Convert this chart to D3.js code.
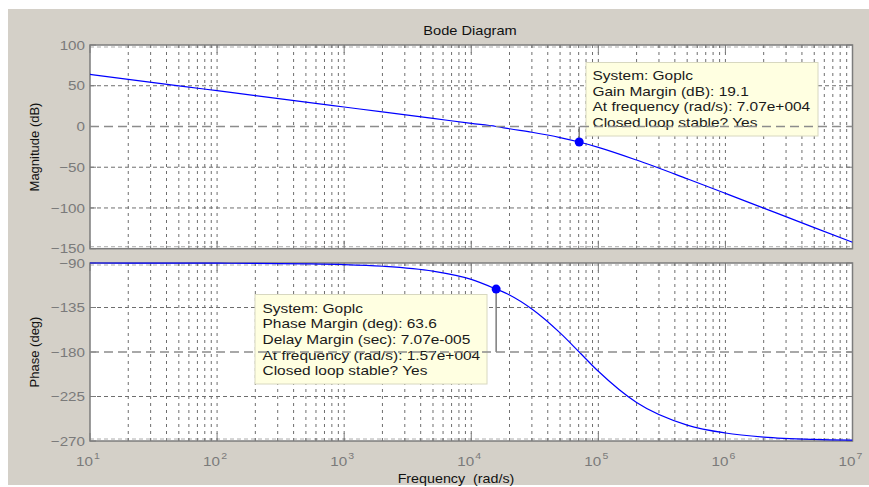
<!DOCTYPE html>
<html><head><meta charset="utf-8">
<script src="https://cdn.jsdelivr.net/npm/d3@7"></script>
<style>
body{margin:0;background:#fff;}
svg{display:block;font-family:"Liberation Sans",Arial,sans-serif;}
</style></head>
<body><svg id="c" width="869" height="487"></svg>
<script>
// ---- data ----
const freqs = [10,20,50,100,200,500,1e3,2e3,5e3,1e4,1.57e4,2e4,3e4,5e4,7.07e4,1e5,2e5,5e5,1e6,2e6,5e6,1e7];
const magDb = [63.9,57.9,49.9,43.9,37.9,29.9,23.9,17.9,9.9,3.8,0,-2.8,-7.1,-13.6,-19.1,-25.6,-41.2,-64.2,-82.1,-100.2,-124.1,-142.1];
const phaseDeg = [-90,-90.1,-90.1,-90.2,-90.3,-90.8,-91.6,-93.3,-98.3,-106.6,-116.4,-122.3,-136.5,-160.7,-180,-199.5,-231.1,-253.9,-261.9,-266,-268.4,-269.2];
const magTicks = [100,50,0,-50,-100,-150];
const phaseTicks = [-90,-135,-180,-225,-270];
const decades = [1,2,3,4,5,6,7];
const gmPoint = {f:7.07e4, v:-19.1};
const pmPoint = {f:1.57e4, v:-116.4};
const gmText = ["System: Goplc","Gain Margin (dB): 19.1","At frequency (rad/s): 7.07e+004","Closed loop stable? Yes"];
const pmText = ["System: Goplc","Phase Margin (deg): 63.6","Delay Margin (sec): 7.07e-005","At frequency (rad/s): 1.57e+004","Closed loop stable? Yes"];

const svg = d3.select("#c");
svg.append("rect").attr("x",8).attr("y",9).attr("width",861).attr("height",476).attr("fill","#d4d0c8");

const X0=90, X1=852.5;
const x = d3.scaleLog().domain([10,1e7]).range([X0,X1]);
const yM = d3.scaleLinear().domain([-150,100]).range([248.7,45]);
const yP = d3.scaleLinear().domain([-270,-90]).range([441,263]);
const SX = 1.17; // horizontal stretch of the reference's text

const minorF = [];
for (let k=1;k<7;k++) for (let m=1;m<10;m++) minorF.push(m*Math.pow(10,k));
minorF.push(1e7);

function panel(y, ticks, special){
  const [b,t] = y.range();
  const g = svg.append("g");
  g.append("rect").attr("x",X0).attr("y",t).attr("width",X1-X0).attr("height",b-t).attr("fill","#fff");
  g.selectAll(".vg").data(minorF.filter(f=>f>10&&f<1e7)).join("line")
    .attr("x1",d=>x(d)).attr("x2",d=>x(d)).attr("y1",t).attr("y2",b)
    .attr("stroke","#6e6e6e").attr("stroke-width",1).attr("stroke-dasharray","3,4");
  g.selectAll(".hg").data(ticks.filter(v=>v!==special && v!==y.domain()[0] && v!==y.domain()[1])).join("line")
    .attr("x1",X0).attr("x2",X1).attr("y1",d=>y(d)).attr("y2",d=>y(d))
    .attr("stroke","#6e6e6e").attr("stroke-width",1).attr("stroke-dasharray","4,3");
  g.selectAll(".eg").data(ticks.filter(v=>v===y.domain()[0]||v===y.domain()[1])).join("line")
    .attr("x1",X0).attr("x2",X1).attr("y1",d=>y(d)+(d===y.domain()[0]?-2:2)).attr("y2",d=>y(d)+(d===y.domain()[0]?-2:2))
    .attr("stroke","#8a8a8a").attr("stroke-width",1).attr("stroke-dasharray","4,3").attr("opacity",0.7);
  const ax = d3.axisLeft(y).tickValues(ticks).tickSize(0).tickPadding(0);
  const ag = g.append("g").attr("transform",`translate(${X0-5},0)`).call(ax);
  ag.select(".domain").remove();
  ag.selectAll(".tick text").attr("x",0).attr("transform",`scale(${SX},1)`)
    .attr("fill","#7a7a7a").style("font-size","13px").style("font-family","Liberation Sans, Arial, sans-serif");
  g.selectAll(".yt").data(ticks).join("line").attr("x1",X0).attr("x2",X0+6).attr("y1",d=>y(d)).attr("y2",d=>y(d)).attr("stroke","#7c7c7c");
  g.selectAll(".yt2").data(ticks).join("line").attr("x1",X1).attr("x2",X1-6).attr("y1",d=>y(d)).attr("y2",d=>y(d)).attr("stroke","#7c7c7c");
  const isMaj = f => Math.abs(Math.log10(f)-Math.round(Math.log10(f)))<1e-9;
  g.selectAll(".xt").data(minorF).join("line").attr("x1",d=>x(d)).attr("x2",d=>x(d))
    .attr("y1",b).attr("y2",d=>b-(isMaj(d)?8:3)).attr("stroke","#7c7c7c");
  g.selectAll(".xt2").data(minorF).join("line").attr("x1",d=>x(d)).attr("x2",d=>x(d))
    .attr("y1",t).attr("y2",d=>t+(isMaj(d)?8:3)).attr("stroke","#7c7c7c");
  g.append("rect").attr("x",X0).attr("y",t).attr("width",X1-X0).attr("height",b-t)
    .attr("fill","none").attr("stroke","#7c7c7c").attr("stroke-width",1.5);
  return g;
}
panel(yM, magTicks, 0);
panel(yP, phaseTicks, -180);

svg.append("clipPath").attr("id","cm").append("rect").attr("x",X0).attr("y",45).attr("width",X1-X0).attr("height",248.7-45);
svg.append("clipPath").attr("id","cp").append("rect").attr("x",X0).attr("y",261).attr("width",X1-X0).attr("height",441-261);
const lineM = d3.line().x((d,i)=>x(freqs[i])).y(d=>yM(d)).curve(d3.curveMonotoneX);
const lineP = d3.line().x((d,i)=>x(freqs[i])).y(d=>yP(d)).curve(d3.curveMonotoneX);
svg.append("path").attr("d",lineM(magDb)).attr("fill","none").attr("stroke","#0000ff").attr("stroke-width",1.2).attr("clip-path","url(#cm)");
svg.append("path").attr("d",lineP(phaseDeg)).attr("fill","none").attr("stroke","#0000ff").attr("stroke-width",1.2).attr("clip-path","url(#cp)");

svg.append("line").attr("x1",x(gmPoint.f)).attr("x2",x(gmPoint.f)).attr("y1",yM(0)).attr("y2",yM(gmPoint.v)).attr("stroke","#7c7c7c").attr("stroke-width",1.5);
svg.append("line").attr("x1",x(pmPoint.f)).attr("x2",x(pmPoint.f)).attr("y1",yP(-180)).attr("y2",yP(pmPoint.v)).attr("stroke","#7c7c7c").attr("stroke-width",1.5);

function tip(bx,by,w,h,lines,tx,ty0,dy){
  svg.append("rect").attr("x",bx).attr("y",by).attr("width",w).attr("height",h)
    .attr("fill","#ffffe1").attr("stroke","#d8d8c0").attr("stroke-width",1);
  svg.append("g").attr("transform",`translate(${tx},0) scale(${SX+0.02},1)`)
    .selectAll("text").data(lines).join("text")
    .attr("x",0).attr("y",(d,i)=>ty0+i*dy).text(d=>d)
    .attr("fill","#1a1a1a").style("font-size","13px");
}
tip(586,62.5,232,73.5,gmText,592.5,80,15.7);
tip(255,294.5,232,89.5,pmText,262.5,312.7,15.65);

svg.append("line").attr("x1",X0).attr("x2",X1).attr("y1",yM(0)).attr("y2",yM(0)).attr("stroke","#8c8c8c").attr("stroke-width",1.5).attr("stroke-dasharray","9,5");
svg.append("line").attr("x1",X0).attr("x2",X1).attr("y1",yP(-180)).attr("y2",yP(-180)).attr("stroke","#8c8c8c").attr("stroke-width",1.5).attr("stroke-dasharray","9,5");

svg.append("circle").attr("cx",x(gmPoint.f)).attr("cy",yM(gmPoint.v)).attr("r",4.5).attr("fill","#0000ff");
svg.append("circle").attr("cx",x(pmPoint.f)).attr("cy",yP(pmPoint.v)).attr("r",4.5).attr("fill","#0000ff");

const xl = svg.append("g").selectAll("text").data(decades).join("text")
  .attr("transform",d=>`translate(${x(Math.pow(10,d))-2},466) scale(${SX},1)`).attr("text-anchor","middle")
  .attr("fill","#7a7a7a").style("font-size","13px");
xl.append("tspan").text("10");
xl.append("tspan").attr("dy",-7).attr("dx",1).style("font-size","9px").text(d=>d);

svg.append("text").attr("transform",`translate(470,35) scale(${SX},1)`).attr("text-anchor","middle").style("font-size","12.5px").attr("fill","#111").text("Bode Diagram");
svg.append("text").attr("transform",`translate(456,483) scale(1.1,1)`).attr("text-anchor","middle").style("font-size","13px").attr("fill","#111").attr("xml:space","preserve").text("Frequency  (rad/s)");
svg.append("text").attr("transform","translate(39,147) rotate(-90)").attr("text-anchor","middle").style("font-size","13px").attr("fill","#111").text("Magnitude (dB)");
svg.append("text").attr("transform","translate(39,352) rotate(-90)").attr("text-anchor","middle").style("font-size","13px").attr("fill","#111").text("Phase (deg)");
</script></body></html>
